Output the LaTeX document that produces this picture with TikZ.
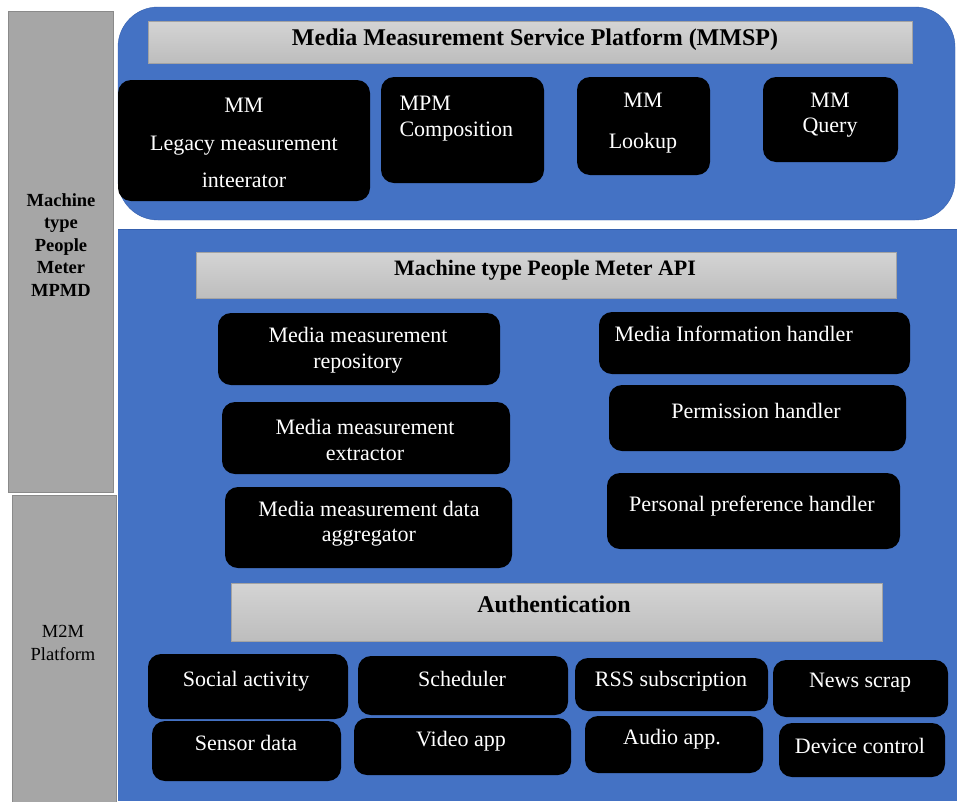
\documentclass[tikz,border=0pt]{standalone}
\usepackage{fontspec}
\setmainfont{Liberation Serif}
\usetikzlibrary{positioning}

\definecolor{panelblue}{HTML}{4472C4}
\definecolor{paneledge}{HTML}{3560AE}
\definecolor{sidegrey}{HTML}{A6A6A6}
\definecolor{sideedge}{HTML}{8A8A8A}
\definecolor{barhi}{HTML}{D4D4D4}
\definecolor{barlo}{HTML}{BDBDBD}
\definecolor{baredge}{HTML}{A3A3A3}

\begin{document}
\begin{tikzpicture}[x=1pt,y=-1pt,
  every node/.style={font=\fontsize{22}{25.5}\selectfont},
  side/.style={draw=sideedge,line width=1pt,fill=sidegrey},
  sidetext/.style={align=center,font=\fontsize{18.5}{22.5}\selectfont},
  bar/.style={draw=baredge,line width=1pt,top color=barhi,bottom color=barlo,inner sep=0pt},
  bartext/.style={font=\fontsize{24}{28}\selectfont\bfseries},
  mmbox/.style={fill=black,rounded corners=13pt,inner sep=0pt},
  boxtext/.style={text=white,align=center}]
\useasboundingbox (0,0) rectangle (957,801);
% side columns
\node[side,minimum width=105pt,minimum height=481pt] (mpmd) at (60.5,251.5) {};
\node[sidetext,font=\fontsize{18.5}{22.5}\selectfont\bfseries] (mpmdtext) at (61,245) {Machine\\type\\People\\Meter\\MPMD};
\node[side,minimum width=104pt,minimum height=310pt] (m2m) at (64,650) {};
\node[sidetext] (m2mtext) at (63,643) {M2M\\Platform};
% blue panels
\draw[draw=paneledge,fill=panelblue,rounded corners=40pt] (118,7) rectangle (955,220);
\fill[panelblue] (118,229) rectangle (957,801);
\draw[paneledge,line width=1.2pt] (118,229.5) -- (957,229.5);
% MMSP
\node[bar,minimum width=764pt,minimum height=42pt] (mmsp) at (530,42) {};
\node[bartext] (mmsptext) at (535,40) {Media Measurement Service Platform (MMSP)};
\node[mmbox,minimum width=252pt,minimum height=121pt] (legacy) at (244,140.5) {};
\node[boxtext] (legacytext) at (244,143) {MM\\[12pt]Legacy measurement\\[12pt]inteerator};
\node[mmbox,minimum width=163pt,minimum height=106pt] (compo) at (462.5,130) {};
\node[boxtext,align=left,anchor=west] (compotext) at (396,118.5) {MPM\\Composition};
\node[mmbox,minimum width=133pt,minimum height=98pt] (lookup) at (643.5,126) {};
\node[boxtext] (lookuptext) at (643,123) {MM\\[15pt]Lookup};
\node[mmbox,minimum width=135pt,minimum height=85pt] (query) at (830.5,119.5) {};
\node[boxtext] (querytext) at (830,115) {MM\\Query};
% people meter API
\node[bar,minimum width=700pt,minimum height=46pt] (api) at (546,275) {};
\node[bartext,font=\fontsize{22}{26}\selectfont\bfseries] (apitext) at (545,270) {Machine type People Meter API};
\node[mmbox,minimum width=282pt,minimum height=72pt] (repo) at (359,349) {};
\node[boxtext] (repotext) at (358,350) {Media measurement\\repository};
\node[mmbox,minimum width=288pt,minimum height=72pt] (extr) at (366,438) {};
\node[boxtext] (extrtext) at (365,440) {Media measurement\\extractor};
\node[mmbox,minimum width=287pt,minimum height=81pt] (aggr) at (368.5,527.5) {};
\node[boxtext] (aggrtext) at (369,523.5) {Media measurement data\\aggregator};
\node[mmbox,minimum width=311pt,minimum height=62pt] (info) at (754.5,343) {};
\node[boxtext,anchor=west] (infotext) at (611,334) {Media Information handler};
\node[mmbox,minimum width=297pt,minimum height=66pt] (perm) at (757.5,418) {};
\node[boxtext] (permtext) at (756,411) {Permission handler};
\node[mmbox,minimum width=293pt,minimum height=76pt] (pref) at (753.5,511) {};
\node[boxtext] (preftext) at (752,506) {Personal preference handler};
% M2M services
\node[bar,minimum width=651pt,minimum height=58pt] (auth) at (556.5,612) {};
\node[bartext,font=\fontsize{24}{28}\selectfont\bfseries] (authtext) at (554,604) {Authentication};
\node[mmbox,minimum width=200pt,minimum height=65pt] (social) at (248,686.5) {};
\node[boxtext] (socialtext) at (246,681) {Social activity};
\node[mmbox,minimum width=210pt,minimum height=59pt] (sched) at (463,685.5) {};
\node[boxtext] (schedtext) at (462,679) {Scheduler};
\node[mmbox,minimum width=193pt,minimum height=53pt] (rss) at (671.5,684.5) {};
\node[boxtext] (rsstext) at (671,681) {RSS subscription};
\node[mmbox,minimum width=175pt,minimum height=57pt] (news) at (860.5,688.5) {};
\node[boxtext] (newstext) at (860,683) {News scrap};
\node[mmbox,minimum width=189pt,minimum height=60pt] (sensor) at (246.5,751) {};
\node[boxtext] (sensortext) at (246,743) {Sensor data};
\node[mmbox,minimum width=217pt,minimum height=57pt] (video) at (462.5,746.5) {};
\node[boxtext] (videotext) at (461,741) {Video app};
\node[mmbox,minimum width=178pt,minimum height=57pt] (audio) at (674,744.5) {};
\node[boxtext] (audiotext) at (672,739) {Audio app.};
\node[mmbox,minimum width=166pt,minimum height=54pt] (device) at (862,750) {};
\node[boxtext] (devicetext) at (860,746) {Device control};
\end{tikzpicture}
\end{document}
